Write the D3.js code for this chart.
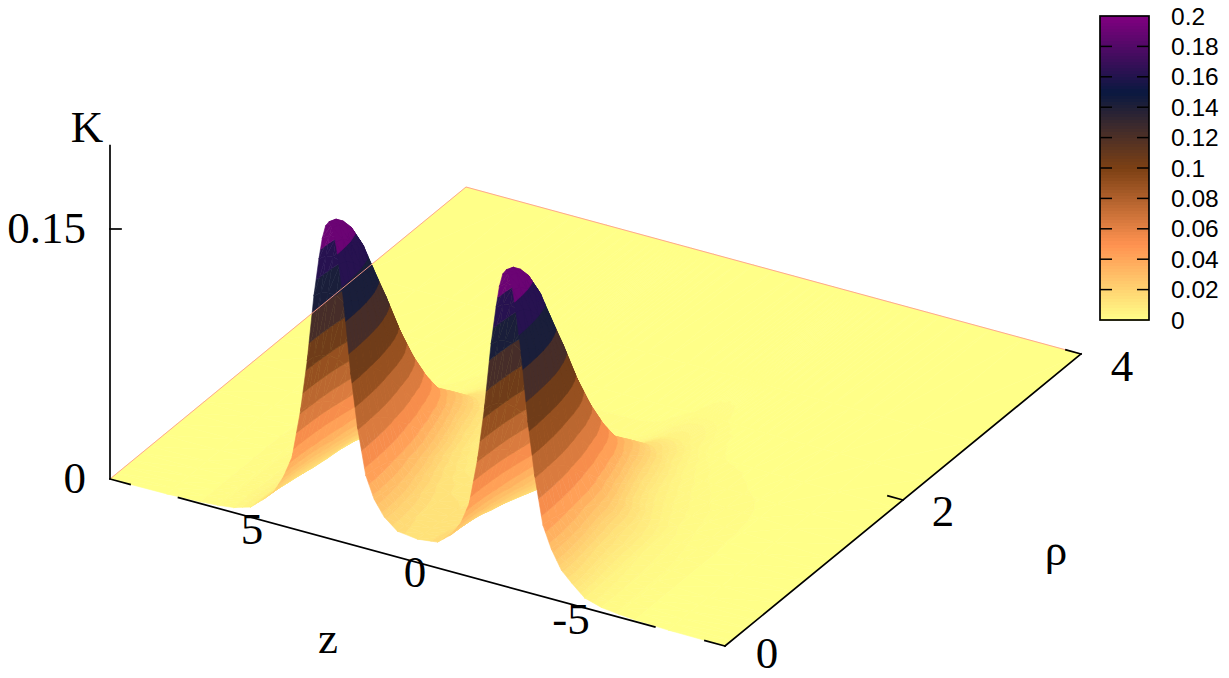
<!DOCTYPE html>
<html>
<head>
<meta charset="utf-8">
<script src="https://cdnjs.cloudflare.com/ajax/libs/d3/7.8.5/d3.min.js"></script>
<style>
	html, body { margin: 0; padding: 0; background: #fff; }
	svg { display: block; }
	.serif { font-family: "Liberation Serif", serif; font-size: 45px; fill: #000; text-anchor: middle; dominant-baseline: central; }
	.cb { font-family: "Liberation Sans", sans-serif; font-size: 24.5px; fill: #000; dominant-baseline: central; }
</style>
</head>
<body>
<svg id="chart" width="1229" height="678"></svg>
<script>
const zGrid = [9.2, 7.5, 6.5, 6, 5.5, 5, 4.6, 4.3, 4, 3.75, 3.5, 3.3, 3.1, 2.95, 2.85, 2.75, 2.65, 2.55, 2.45, 2.35, 2.2, 2, 1.8, 1.55, 1.3, 1, 0.6, 0,
	-0.6, -1, -1.3, -1.55, -1.8, -2, -2.2, -2.35, -2.45, -2.55, -2.65, -2.75, -2.85, -2.95, -3.1, -3.3, -3.5, -3.75, -4, -4.3, -4.6, -5, -5.5, -6, -6.5, -7.5, -9.2];
const rhoGrid = [0, 0.08, 0.16, 0.25, 0.35, 0.45, 0.6, 0.75, 0.9, 1.05, 1.2, 1.4, 1.6, 1.9, 2.3, 2.8, 4];

// K x 10000, one row per zGrid entry, one column per rhoGrid entry
const kTable = [
	[0, 0, 0, 0, 0, 0, 0, 0, 0, 0, 0, 0, 0, 0, 0, 0, 0],
	[3, 3, 3, 3, 3, 3, 3, 3, 3, 3, 3, 2, 2, 1, 0, 0, 0],
	[10, 10, 10, 10, 10, 10, 10, 10, 10, 9, 9, 8, 6, 3, 1, 0, 0],
	[18, 18, 18, 18, 18, 18, 18, 17, 16, 15, 14, 12, 9, 4, 1, 0, 0],
	[30, 30, 30, 29, 28, 28, 26, 24, 22, 20, 18, 16, 11, 5, 2, 0, 0],
	[60, 59, 58, 56, 53, 50, 46, 41, 36, 30, 25, 20, 14, 7, 2, 0, 0],
	[130, 128, 122, 112, 104, 98, 96, 88, 72, 50, 36, 26, 18, 8, 2, 1, 0],
	[190, 188, 183, 172, 156, 142, 128, 118, 100, 72, 50, 33, 22, 9, 3, 1, 0],
	[300, 297, 290, 277, 258, 231, 198, 185, 150, 100, 70, 47, 30, 11, 3, 1, 0],
	[430, 426, 415, 398, 370, 331, 295, 250, 190, 135, 95, 64, 39, 14, 4, 1, 0],
	[720, 713, 695, 666, 619, 554, 461, 360, 274, 202, 146, 102, 59, 22, 5, 1, 0],
	[1030, 1020, 994, 953, 886, 793, 659, 515, 391, 288, 206, 144, 82, 31, 8, 1, 0],
	[1430, 1416, 1380, 1323, 1230, 1101, 915, 715, 543, 400, 286, 200, 114, 43, 11, 2, 0],
	[1660, 1643, 1602, 1536, 1428, 1278, 1062, 830, 631, 465, 332, 232, 131, 50, 13, 3, 0],
	[1790, 1772, 1727, 1656, 1539, 1378, 1146, 895, 680, 501, 358, 251, 142, 54, 14, 3, 0],
	[1870, 1851, 1805, 1730, 1608, 1440, 1197, 935, 711, 524, 374, 262, 148, 56, 14, 3, 0],
	[1900, 1881, 1834, 1758, 1634, 1463, 1216, 950, 722, 532, 380, 266, 150, 57, 15, 3, 0],
	[1870, 1851, 1805, 1730, 1608, 1440, 1197, 935, 711, 524, 374, 262, 148, 56, 14, 3, 0],
	[1790, 1772, 1727, 1656, 1539, 1378, 1146, 895, 680, 501, 358, 251, 142, 54, 14, 3, 0],
	[1660, 1643, 1602, 1536, 1428, 1278, 1062, 830, 631, 465, 332, 232, 131, 50, 13, 3, 0],
	[1430, 1416, 1380, 1323, 1230, 1101, 915, 715, 543, 400, 286, 200, 114, 43, 11, 2, 0],
	[1030, 1020, 994, 953, 886, 793, 659, 515, 391, 288, 206, 144, 82, 31, 8, 1, 0],
	[720, 713, 695, 666, 619, 554, 461, 360, 274, 202, 146, 102, 59, 22, 5, 1, 0],
	[440, 436, 425, 407, 378, 339, 282, 220, 167, 127, 95, 68, 42, 16, 4, 1, 0],
	[310, 307, 299, 287, 267, 239, 198, 158, 125, 98, 76, 58, 37, 15, 4, 1, 0],
	[220, 218, 213, 205, 192, 172, 148, 122, 100, 82, 67, 52, 34, 14, 4, 1, 0],
	[155, 154, 152, 148, 142, 133, 120, 106, 92, 78, 66, 52, 35, 14, 4, 1, 0],
	[140, 139, 137, 134, 129, 122, 112, 100, 88, 76, 64, 51, 34, 14, 4, 1, 0],
	[155, 154, 152, 148, 142, 133, 120, 106, 92, 78, 66, 52, 35, 14, 4, 1, 0],
	[220, 218, 213, 205, 192, 172, 148, 122, 100, 82, 67, 52, 34, 14, 4, 1, 0],
	[310, 307, 299, 287, 267, 239, 198, 158, 125, 98, 76, 58, 37, 15, 4, 1, 0],
	[440, 436, 425, 407, 378, 339, 282, 220, 167, 127, 95, 68, 42, 16, 4, 1, 0],
	[720, 713, 695, 666, 619, 554, 461, 360, 274, 202, 146, 102, 59, 22, 5, 1, 0],
	[1030, 1020, 994, 953, 886, 793, 659, 515, 391, 288, 206, 144, 82, 31, 8, 1, 0],
	[1430, 1416, 1380, 1323, 1230, 1101, 915, 715, 543, 400, 286, 200, 114, 43, 11, 2, 0],
	[1660, 1643, 1602, 1536, 1428, 1278, 1062, 830, 631, 465, 332, 232, 131, 50, 13, 3, 0],
	[1790, 1772, 1727, 1656, 1539, 1378, 1146, 895, 680, 501, 358, 251, 142, 54, 14, 3, 0],
	[1870, 1851, 1805, 1730, 1608, 1440, 1197, 935, 711, 524, 374, 262, 148, 56, 14, 3, 0],
	[1900, 1881, 1834, 1758, 1634, 1463, 1216, 950, 722, 532, 380, 266, 150, 57, 15, 3, 0],
	[1870, 1851, 1805, 1730, 1608, 1440, 1197, 935, 711, 524, 374, 262, 148, 56, 14, 3, 0],
	[1790, 1772, 1727, 1656, 1539, 1378, 1146, 895, 680, 501, 358, 251, 142, 54, 14, 3, 0],
	[1660, 1643, 1602, 1536, 1428, 1278, 1062, 830, 631, 465, 332, 232, 131, 50, 13, 3, 0],
	[1430, 1416, 1380, 1323, 1230, 1101, 915, 715, 543, 400, 286, 200, 114, 43, 11, 2, 0],
	[1030, 1020, 994, 953, 886, 793, 659, 515, 391, 288, 206, 144, 82, 31, 8, 1, 0],
	[720, 713, 695, 666, 619, 554, 461, 360, 274, 202, 146, 102, 59, 22, 5, 1, 0],
	[430, 426, 415, 398, 370, 331, 295, 250, 190, 135, 95, 64, 39, 14, 4, 1, 0],
	[300, 297, 290, 277, 258, 231, 198, 185, 150, 100, 70, 47, 30, 11, 3, 1, 0],
	[190, 188, 183, 172, 156, 142, 128, 118, 100, 72, 50, 33, 22, 9, 3, 1, 0],
	[130, 128, 122, 112, 104, 98, 96, 88, 72, 50, 36, 26, 18, 8, 2, 1, 0],
	[60, 59, 58, 56, 53, 50, 46, 41, 36, 30, 25, 20, 14, 7, 2, 0, 0],
	[30, 30, 30, 29, 28, 28, 26, 24, 22, 20, 18, 16, 11, 5, 2, 0, 0],
	[18, 18, 18, 18, 18, 18, 18, 17, 16, 15, 14, 12, 9, 4, 1, 0, 0],
	[10, 10, 10, 10, 10, 10, 10, 10, 10, 9, 9, 8, 6, 3, 1, 0, 0],
	[3, 3, 3, 3, 3, 3, 3, 3, 3, 3, 3, 2, 2, 1, 0, 0, 0],
	[0, 0, 0, 0, 0, 0, 0, 0, 0, 0, 0, 0, 0, 0, 0, 0, 0]
];

const paletteStops = [0, 0.05, 0.1, 0.15, 0.2];
const paletteColors = ['#ffff88', '#ff9250', '#7c4014', '#0a1840', '#800080'];
const bandEdges = [0, 0.001, 0.002, 0.003, 0.0045, 0.006, 0.008, 0.01, 0.012, 0.015, 0.018, 0.021, 0.024, 0.028, 0.033, 0.039, 0.048, 0.058, 0.07, 0.083, 0.097, 0.114, 0.133, 0.153, 0.172, 0.21];
const cbTicks = [0, 0.02, 0.04, 0.06, 0.08, 0.1, 0.12, 0.14, 0.16, 0.18, 0.2];
const zTickLabels = [5, 0, -5];
const zTickSpots = [[252, 529], [415, 572], [571, 619]];
const rhoTickLabels = [0, 2, 4];
const rhoTickSpots = [[767, 653], [943, 511], [1122, 366]];
const kTickLabels = [0, 0.15];
// stretches of the front axis that are not covered by the surface
const zAxisStretches = [[9.2, 8.6], [7.15, -7.1], [-8.6, -9.2]];

const svg = d3.select('#chart');

// oblique projection of the gnuplot view
const zX = d3.scaleLinear().domain([9.2, -9.2]).range([110, 725]);
const zY = d3.scaleLinear().domain([9.2, -9.2]).range([479, 646]);
const rhoX = d3.scaleLinear().domain([0, 4]).range([0, 356]);
const rhoY = d3.scaleLinear().domain([0, 4]).range([0, -292]);
const kY = d3.scaleLinear().domain([0, 0.15]).range([0, -250]);
const project = (z, rho, k) => [zX(z) + rhoX(rho), zY(z) + rhoY(rho) + kY(k)];

const palette = d3.scaleLinear().domain(paletteStops).range(paletteColors);

// cut a triangle down to the part with k on the wanted side of a level
function clipLevel(poly, level, above) {
	const out = [];
	poly.forEach((p, i) => {
		const q = poly[(i + 1) % poly.length];
		const pIn = above ? p.k >= level : p.k <= level;
		const qIn = above ? q.k >= level : q.k <= level;
		if (pIn) out.push(p);
		if (pIn !== qIn) {
			const t = (level - p.k) / (q.k - p.k);
			out.push({ x: p.x + t * (q.x - p.x), y: p.y + t * (q.y - p.y), k: level });
		}
	});
	return out;
}

const pieces = [];
function addTriangle(tri) {
	const lo = d3.min(tri, d => d.k);
	const hi = d3.max(tri, d => d.k);
	d3.pairs(bandEdges).forEach(([a, b], i) => {
		if (hi < a || lo >= b) return;
		if (hi === a && i > 0) return;
		let poly = clipLevel(tri, a, true);
		if (poly.length) poly = clipLevel(poly, b, false);
		if (poly.length < 3) return;
		pieces.push({ poly, color: i === 0 ? palette(0) : palette((a + b) / 2) });
	});
}

const corner = (i, j) => {
	const k = kTable[i][j] / 10000;
	const [x, y] = project(zGrid[i], rhoGrid[j], k);
	return { x, y, k };
};

// back to front: far rho first, high z first
for (let j = rhoGrid.length - 2; j >= 0; j--) {
	for (let i = 0; i < zGrid.length - 1; i++) {
		const far = corner(i, j + 1);
		const near = corner(i + 1, j);
		const s1 = corner(i, j);
		const s2 = corner(i + 1, j + 1);
		addTriangle([far, s1, s2]);
		addTriangle([near, s1, s2]);
	}
}

svg.append('g')
	.selectAll('path')
	.data(pieces)
	.join('path')
	.attr('d', d => 'M' + d.poly.map(p => p.x.toFixed(2) + ',' + p.y.toFixed(2)).join('L') + 'Z')
	.attr('fill', d => d.color)
	.attr('stroke', d => d.color)
	.attr('stroke-width', 0.6)
	.attr('stroke-linejoin', 'round');

// thin pink back edges of the surface
const edgeLine = d3.line();
svg.append('path')
	.attr('d', edgeLine([project(9.2, 0, 0), project(9.2, 4, 0), project(-9.2, 4, 0)]))
	.attr('fill', 'none')
	.attr('stroke', '#ff9c8c')
	.attr('stroke-width', 0.9);

// axes
const axes = svg.append('g').attr('stroke', '#000').attr('stroke-width', 1.7).attr('fill', 'none').attr('stroke-linecap', 'square');
zAxisStretches.forEach(([a, b]) => {
	axes.append('path').attr('d', edgeLine([project(a, 0, 0), project(b, 0, 0)]));
});
axes.append('path').attr('d', edgeLine([project(-9.2, 0, 0), project(-9.2, 4, 0)]));
axes.append('path').attr('d', edgeLine([project(9.2, 0, 0), project(9.2, 0, 0.2)]));
axes.append('path').attr('d', edgeLine([project(-9.2, 2, 0), project(-8.75, 2, 0)]));
axes.append('path').attr('d', edgeLine([project(-9.2, 4, 0), project(-8.75, 4, 0)]));
const kTop = [project(9.2, 0, 0.15), [project(9.2, 0, 0.15)[0] + 11, project(9.2, 0, 0.15)[1]]];
axes.append('path').attr('d', edgeLine(kTop));

// tick labels
const label = (txt, x, y) => svg.append('text').attr('class', 'serif').attr('x', x).attr('y', y).text(txt);
zTickLabels.forEach((v, i) => label(v, zTickSpots[i][0], zTickSpots[i][1]));
rhoTickLabels.forEach((v, i) => label(v, rhoTickSpots[i][0], rhoTickSpots[i][1]));
kTickLabels.forEach(v => {
	const [x, y] = project(9.2, 0, v);
	svg.append('text').attr('class', 'serif').attr('x', x - 24).attr('y', y - 1).style('text-anchor', 'end').text(v);
});
label('K', 87, 127);
label('z', 328, 638);
label('\u03c1', 1056, 550);

// colour box
const cbY = d3.scaleLinear().domain([0, 0.2]).range([320, 16]);
const cbLevels = d3.range(0, 0.2, 0.002);
const cb = svg.append('g');
cb.selectAll('rect')
	.data(cbLevels)
	.join('rect')
	.attr('x', 1100)
	.attr('width', 49)
	.attr('y', d => cbY(d + 0.002))
	.attr('height', d => cbY(d) - cbY(d + 0.002) + 0.5)
	.attr('shape-rendering', 'crispEdges')
	.attr('fill', d => palette(d + 0.001));
cb.append('rect')
	.attr('x', 1100).attr('y', 16).attr('width', 49).attr('height', 304)
	.attr('fill', 'none').attr('stroke', '#000').attr('stroke-width', 1.7);
cbTicks.forEach(v => {
	if (v > 0 && v < 0.2) {
		cb.append('line').attr('x1', 1100).attr('x2', 1112).attr('y1', cbY(v)).attr('y2', cbY(v)).attr('stroke', '#000').attr('stroke-width', 1.5);
		cb.append('line').attr('x1', 1137).attr('x2', 1149).attr('y1', cbY(v)).attr('y2', cbY(v)).attr('stroke', '#000').attr('stroke-width', 1.5);
	}
	cb.append('text').attr('class', 'cb').attr('x', 1171).attr('y', cbY(v)).text(v);
});
</script>
</body>
</html>
